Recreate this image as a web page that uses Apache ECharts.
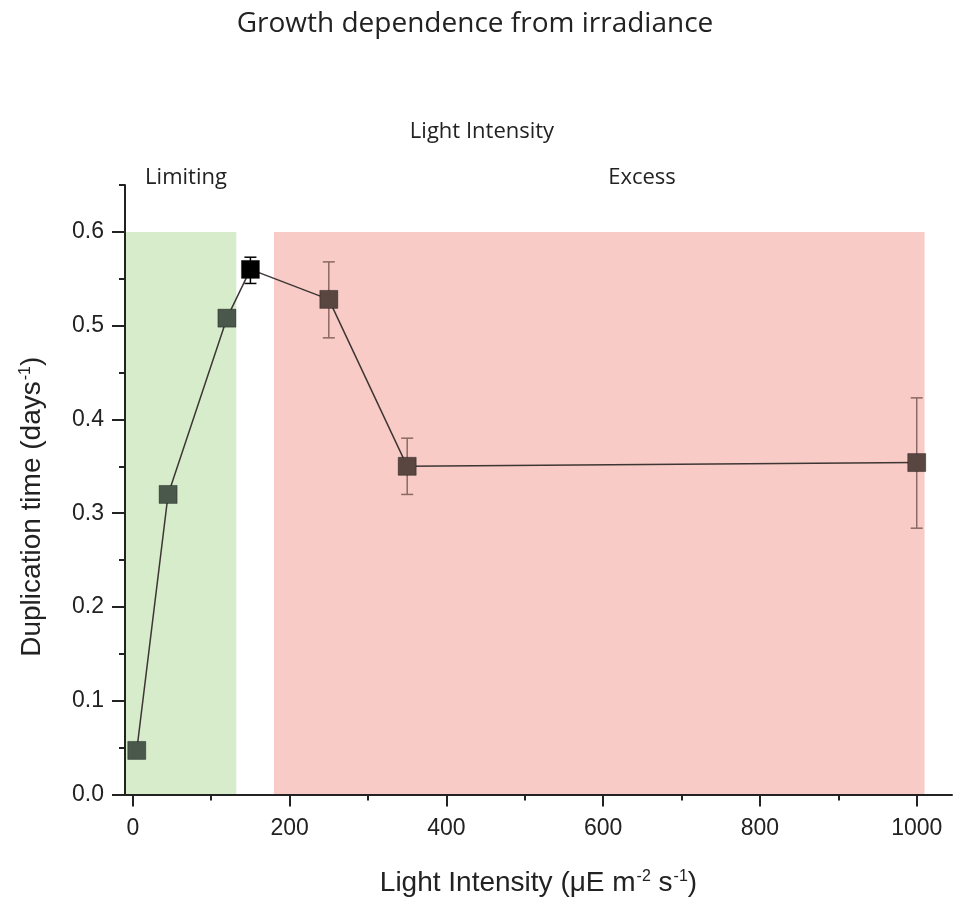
<!DOCTYPE html>
<html>
<head>
<meta charset="utf-8">
<title>Growth dependence from irradiance</title>
<script src="https://cdn.jsdelivr.net/npm/echarts@6/dist/echarts.min.js"></script>
<style>
  html, body { margin: 0; padding: 0; background: #ffffff; }
  #chart { width: 961px; height: 902px; }
</style>
</head>
<body>
<div id="chart"></div>
<script>
// Light intensity (µE m-2 s-1) of each culture
const lightIntensity = [5, 45, 120, 150, 250, 350, 1000];
// Duplication time (days-1) and error range
const duplicationTime = [0.047, 0.32, 0.508, 0.56, 0.528, 0.35, 0.354];
const errorLow  = [null, null, null, 0.545, 0.487, 0.32, 0.284];
const errorHigh = [null, null, null, 0.573, 0.568, 0.38, 0.423];

// Shaded ranges: [start, end] on the light axis, and the band height
const limitingRange = [-10, 132];
const excessRange = [180, 1010];
const bandTop = 0.6;

// Axis ticks and labels
const xMajorTicks = [0, 200, 400, 600, 800, 1000];
const xMinorTicks = [0, 100, 200, 300, 400, 500, 600, 700, 800, 900, 1000];
const yMajorTicks = [0, 0.1, 0.2, 0.3, 0.4, 0.5, 0.6];
const yMinorTicks = [0, 0.05, 0.1, 0.15, 0.2, 0.25, 0.3, 0.35, 0.4, 0.45, 0.5, 0.55, 0.6, 0.65];

const AX = '#222222';
const sansFont = '"Liberation Sans", Arial, sans-serif';
const humanist = '"Open Sans", "Noto Sans", sans-serif';

const chart = echarts.init(document.getElementById('chart'), null, { renderer: 'canvas' });

function markerColor(x) {
  if (x < limitingRange[1]) return '#4a584c';
  if (x < excessRange[0]) return '#000000';
  return '#5a4640';
}
function barColor(x) {
  return (x < excessRange[0]) ? '#000000' : '#8a6964';
}

const points = lightIntensity.map((x, i) => [x, duplicationTime[i]]);
const errBars = lightIntensity
  .map((x, i) => [x, errorLow[i], errorHigh[i]])
  .filter(d => d[1] != null);

const xBase = { type: 'value', min: -10, max: 1045, gridIndex: 0, position: 'bottom', z: 5,
  splitLine: { show: false } };
const yBase = { type: 'value', min: 0, max: 0.65, gridIndex: 0, position: 'left', z: 5,
  splitLine: { show: false } };

const nameRich = {
  n: { fontFamily: sansFont, fontSize: 28, color: '#222' },
  s: { fontFamily: sansFont, fontSize: 16, color: '#222', padding: [0, 0, 13, 1] }
};

function headerText(text, x, y) {
  return { type: 'text', position: [x, y], style: { text: text, x: 0, y: 0,
    textAlign: 'center', textVerticalAlign: 'middle', font: '22px ' + humanist, fill: '#222' } };
}

chart.setOption({
  animation: false,
  backgroundColor: '#ffffff',
  title: {
    text: 'Growth dependence from irradiance',
    left: 470, top: 5, textAlign: 'center',
    textStyle: { fontFamily: humanist, fontWeight: 'normal', fontSize: 28, color: '#222' }
  },
  graphic: [
    headerText('Light Intensity', 482, 132),
    headerText('Limiting', 186, 178),
    headerText('Excess', 642, 178)
  ],
  grid: { left: 125, top: 185, width: 827, height: 613, containLabel: false },
  xAxis: [
    Object.assign({}, xBase, {
      axisLine: { show: true, onZero: false, lineStyle: { color: AX, width: 2 } },
      axisTick: { show: true, inside: false, length: 6, customValues: xMinorTicks,
        lineStyle: { color: AX, width: 2 } },
      axisLabel: { show: false }
    }),
    Object.assign({}, xBase, {
      name: '{n|Light Intensity (μE m}{s|-2}{n| s}{s|-1}{n|)}',
      nameLocation: 'middle', nameGap: 74,
      nameTextStyle: { rich: nameRich },
      axisLine: { show: false, onZero: false },
      axisTick: { show: true, inside: false, length: 12, customValues: xMajorTicks,
        lineStyle: { color: AX, width: 2 } },
      axisLabel: { show: true, customValues: xMajorTicks, margin: 23,
        formatter: v => String(v),
        fontFamily: sansFont, fontSize: 23, color: '#222' }
    })
  ],
  yAxis: [
    Object.assign({}, yBase, {
      axisLine: { show: true, onZero: false, lineStyle: { color: AX, width: 2 } },
      axisTick: { show: true, inside: false, length: 6, customValues: yMinorTicks,
        lineStyle: { color: AX, width: 2 } },
      axisLabel: { show: false }
    }),
    Object.assign({}, yBase, {
      name: '{n|Duplication time (days}{s|-1}{n|)}',
      nameLocation: 'middle', nameGap: 78, nameRotate: 90,
      nameTextStyle: { padding: [0, 34, 0, 0], rich: nameRich },
      axisLine: { show: false, onZero: false },
      axisTick: { show: true, inside: false, length: 13, customValues: yMajorTicks,
        lineStyle: { color: AX, width: 2 } },
      axisLabel: { show: true, customValues: yMajorTicks, margin: 21,
        formatter: v => v.toFixed(1),
        fontFamily: sansFont, fontSize: 23, color: '#222' }
    })
  ],
  series: [
    {
      name: 'bands',
      type: 'line',
      xAxisIndex: 0, yAxisIndex: 0,
      data: [],
      silent: true,
      z: 0,
      markArea: {
        silent: true,
        data: [
          [{ xAxis: limitingRange[0], yAxis: 0, itemStyle: { color: '#d6eccb' } },
           { xAxis: limitingRange[1], yAxis: bandTop }],
          [{ xAxis: excessRange[0], yAxis: 0, itemStyle: { color: '#f8cbc6' } },
           { xAxis: excessRange[1], yAxis: bandTop }]
        ]
      }
    },
    {
      name: 'error',
      type: 'custom',
      xAxisIndex: 0, yAxisIndex: 0,
      z: 2,
      data: errBars,
      renderItem: function (params, api) {
        const x = api.value(0);
        const lo = api.coord([x, api.value(1)]);
        const hi = api.coord([x, api.value(2)]);
        const cap = 6;
        const style = { stroke: barColor(x), lineWidth: 1.5, fill: null };
        return {
          type: 'group',
          children: [
            { type: 'line', shape: { x1: lo[0], y1: lo[1], x2: hi[0], y2: hi[1] }, style },
            { type: 'line', shape: { x1: lo[0] - cap, y1: lo[1], x2: lo[0] + cap, y2: lo[1] }, style },
            { type: 'line', shape: { x1: hi[0] - cap, y1: hi[1], x2: hi[0] + cap, y2: hi[1] }, style }
          ]
        };
      }
    },
    {
      name: 'Duplication time',
      type: 'line',
      xAxisIndex: 0, yAxisIndex: 0,
      z: 3,
      data: points,
      symbol: 'rect',
      symbolSize: 18,
      lineStyle: { color: '#3e3634', width: 1.5 },
      itemStyle: {
        color: p => markerColor(p.value[0]),
        borderColor: 'rgba(0,0,0,0.35)', borderWidth: 1
      }
    }
  ]
});
</script>
</body>
</html>
